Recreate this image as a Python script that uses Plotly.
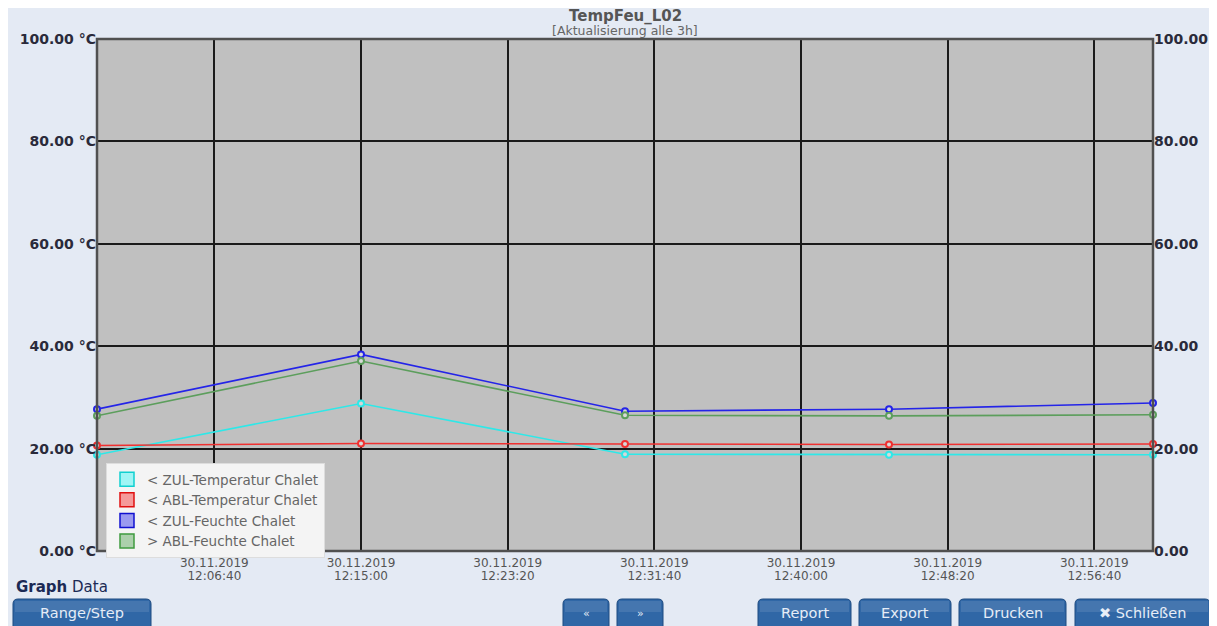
import plotly.graph_objects as go

# ---------------- data ----------------
times = ["2019-11-30 12:00:00", "2019-11-30 12:15:00", "2019-11-30 12:30:00",
         "2019-11-30 12:45:00", "2019-11-30 13:00:00"]
zul_temp = [18.8, 28.8, 18.9, 18.8, 18.8]
abl_temp = [20.6, 21.0, 20.9, 20.8, 20.9]
zul_feuchte = [27.7, 38.4, 27.3, 27.7, 28.9]
abl_feuchte = [26.4, 37.1, 26.5, 26.4, 26.6]

series_names = ["< ZUL-Temperatur Chalet", "< ABL-Temperatur Chalet",
                "< ZUL-Feuchte Chalet", "> ABL-Feuchte Chalet"]
series_values = [zul_temp, abl_temp, zul_feuchte, abl_feuchte]
line_colors = ["#2ee8e8", "#f03030", "#2424e8", "#5c9e5c"]
swatch_colors = ["#9ff5f5", "#f59a9a", "#9a9af0", "#acd0ac"]
swatch_lines = ["#10d0d0", "#e01010", "#1010d0", "#3f9a3f"]

x_tickvals = ["2019-11-30 12:06:40", "2019-11-30 12:15:00", "2019-11-30 12:23:20",
              "2019-11-30 12:31:40", "2019-11-30 12:40:00", "2019-11-30 12:48:20",
              "2019-11-30 12:56:40"]
x_date_text = ["30.11.2019"] * 7
x_time_text = ["12:06:40", "12:15:00", "12:23:20", "12:31:40", "12:40:00",
               "12:48:20", "12:56:40"]
y_tickvals = [0, 20, 40, 60, 80, 100]
y_left_text = ["0.00 °C", "20.00 °C", "40.00 °C", "60.00 °C", "80.00 °C", "100.00 °C"]
y_right_text = ["0.00", "20.00", "40.00", "60.00", "80.00", "100.00"]

title_text = "TempFeu_L02"
subtitle_text = "[Aktualisierung alle 3h]"
buttons = [("Range/Step", 13, 151), ("«", 563, 609), ("»", 617, 663),
           ("Report", 758, 851), ("Export", 859, 951), ("Drucken", 959, 1066),
           ("✖ Schließen", 1075, 1210)]

# ---------------- layout geometry ----------------
# page body has an 8px margin; reference pixel coords are used below
OFF = 8
W, H = 1217 - OFF, 626 - OFF
L, R, T, B = 97, 1153, 39, 551          # plot area in reference pixels
PW, PH = R - L, B - T


def px(xp):
    return (xp - L) / PW


def py(yp):
    return (B - yp) / PH


FONT = "DejaVu Sans"

fig = go.Figure()

for name, vals, lc in zip(series_names, series_values, line_colors):
    fig.add_trace(go.Scatter(
        x=times, y=vals, mode="lines+markers", name=name, showlegend=False,
        line=dict(color=lc, width=1.6),
        marker=dict(symbol="circle", size=6, color="#d8d8d8",
                    line=dict(color=lc, width=2)),
        cliponaxis=False,
    ))

# legend entries with box swatches
for name, sc, sl in zip(series_names, swatch_colors, swatch_lines):
    fig.add_trace(go.Scatter(
        x=[None], y=[None], mode="markers", name=name, showlegend=True,
        marker=dict(symbol="square", size=14, color=sc, line=dict(color=sl, width=1.5)),
    ))

# invisible trace to activate the secondary axes
fig.add_trace(go.Scatter(x=times, y=zul_temp, xaxis="x2", yaxis="y2", mode="lines",
                         line=dict(width=0), opacity=0, showlegend=False,
                         hoverinfo="skip"))

shapes = []
# plot frame
shapes.append(dict(type="rect", xref="paper", yref="paper", x0=0, x1=1, y0=0, y1=1,
                   line=dict(color="#505050", width=2.5), fillcolor="rgba(0,0,0,0)"))


def rounded(x0, x1, y0, y1, r=4):
    rx, ry = r / PW, r / PH
    X0, X1, Y0, Y1 = px(x0), px(x1), py(y1), py(y0)  # Y0 bottom, Y1 top
    return (f"M {X0+rx},{Y1} L {X1-rx},{Y1} Q {X1},{Y1} {X1},{Y1-ry} "
            f"L {X1},{Y0+ry} Q {X1},{Y0} {X1-rx},{Y0} L {X0+rx},{Y0} "
            f"Q {X0},{Y0} {X0},{Y0+ry} L {X0},{Y1-ry} Q {X0},{Y1} {X0+rx},{Y1} Z")


annotations = []
for label, x0, x1 in buttons:
    shapes.append(dict(type="path", xref="paper", yref="paper",
                       path=rounded(x0, x1, 599, 634, 5),
                       fillcolor="#3067a6", line=dict(color="#1d4a80", width=1)))
    shapes.append(dict(type="rect", xref="paper", yref="paper",
                       x0=px(x0 + 2), x1=px(x1 - 2), y0=py(612), y1=py(601),
                       fillcolor="rgba(255,255,255,0.10)", line=dict(width=0)))
    annotations.append(dict(xref="paper", yref="paper", x=px((x0 + x1) / 2), y=py(613),
                            text=label, showarrow=False, xanchor="center", yanchor="middle",
                            font=dict(family=FONT, size=14.5 if len(label) > 1 else 11,
                                      color="#e6edf7")))

annotations.append(dict(xref="paper", yref="paper", x=px(14), y=py(587),
                        text="<b>Graph</b> Data", showarrow=False, xanchor="left",
                        yanchor="middle", font=dict(family=FONT, size=15, color="#1c2a55")))
annotations.append(dict(xref="paper", yref="paper", x=0.5, y=py(16),
                        text=f"<b>{title_text}</b>", showarrow=False, xanchor="center",
                        yanchor="middle", font=dict(family=FONT, size=15, color="#555555")))
annotations.append(dict(xref="paper", yref="paper", x=0.5, y=py(30.5),
                        text=subtitle_text, showarrow=False, xanchor="center",
                        yanchor="middle", font=dict(family=FONT, size=12.5, color="#666666")))

fig.update_layout(
    width=W, height=H,
    margin=dict(l=L - OFF, r=W - (R - OFF), t=T - OFF, b=H - (B - OFF), pad=0),
    paper_bgcolor="#e4eaf4",
    plot_bgcolor="#c0c0c0",
    font=dict(family=FONT, size=11, color="#333333"),
    showlegend=True,
    legend=dict(x=px(106), y=py(463), xanchor="left", yanchor="top",
                bgcolor="#f4f4f4", bordercolor="#dddddd", borderwidth=1,
                font=dict(family=FONT, size=13.5, color="#666666"),
                itemsizing="trace", tracegroupgap=0),
    xaxis=dict(type="date", range=[times[0], times[-1]],
               tickvals=x_tickvals, ticktext=x_date_text, automargin=False,
               showgrid=True, gridcolor="#1a1a1a", gridwidth=1.6,
               zeroline=False, showline=False, ticks="", ticklabelstandoff=3,
               tickfont=dict(family=FONT, size=12, color="#555555")),
    xaxis2=dict(type="date", range=[times[0], times[-1]], overlaying="x", side="bottom",
                anchor="y2", tickvals=x_tickvals, ticktext=x_time_text, automargin=False,
                showgrid=False, zeroline=False, showline=False, ticks="",
                ticklabelstandoff=16,
                tickfont=dict(family=FONT, size=12, color="#555555")),
    yaxis=dict(range=[0, 100], tickvals=y_tickvals, ticktext=y_left_text, automargin=False,
               showgrid=True, gridcolor="#1a1a1a", gridwidth=1.6,
               zeroline=False, showline=False, ticks="",
               tickfont=dict(family=FONT, size=14, color="#2a2a3a", weight="bold")),
    yaxis2=dict(range=[0, 100], tickvals=y_tickvals, ticktext=y_right_text, automargin=False,
                overlaying="y", side="right", showgrid=False, zeroline=False,
                showline=False, ticks="", anchor="x2",
                tickfont=dict(family=FONT, size=14, color="#2a2a3a", weight="bold")),
    shapes=shapes,
    annotations=annotations,
)

fig.write_html("out.html")
